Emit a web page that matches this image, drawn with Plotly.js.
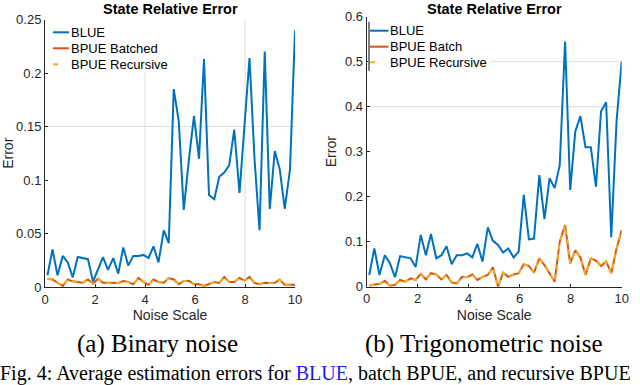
<!DOCTYPE html>
<html>
<head>
<meta charset="utf-8">
<script src="https://cdn.plot.ly/plotly-3.0.1.min.js"></script>
<style>
  html, body { margin: 0; padding: 0; background: #fff; }
  #chart { width: 640px; height: 385px; }
</style>
</head>
<body>
<div id="chart"></div>
<script>
// noise scale grid shared by both panels
const noiseScale = [0.1, 0.3, 0.5, 0.71, 0.91, 1.11, 1.31, 1.51, 1.72, 1.92,
  2.12, 2.32, 2.52, 2.73, 2.93, 3.13, 3.33, 3.53, 3.74, 3.94,
  4.14, 4.34, 4.54, 4.75, 4.95, 5.15, 5.35, 5.55, 5.76, 5.96,
  6.16, 6.36, 6.56, 6.77, 6.97, 7.17, 7.37, 7.57, 7.78, 7.98,
  8.18, 8.38, 8.58, 8.79, 8.99, 9.19, 9.39, 9.59, 9.8, 10];

// (a) binary noise
const binaryBlue = [0.011, 0.035, 0.011, 0.029, 0.023, 0.009, 0.028, 0.027, 0.026, 0.005,
  0.017, 0.028, 0.016, 0.027, 0.0125, 0.037, 0.020, 0.029, 0.029, 0.030,
  0.027, 0.038, 0.023, 0.053, 0.041, 0.185, 0.155, 0.072, 0.12, 0.16,
  0.12, 0.213, 0.086, 0.082, 0.103, 0.107, 0.114, 0.147, 0.088, 0.15,
  0.214, 0.12, 0.053, 0.22, 0.073, 0.127, 0.11, 0.073, 0.11, 0.24];
const binaryBatched = [0.0078, 0.007, 0.004, 0.001, 0.007, 0.0053, 0.0047, 0.004, 0.007, 0.003,
  0.0078, 0.004, 0.004, 0.0038, 0.0038, 0.0056, 0.0047, 0.0025, 0.0084, 0.0047,
  0.002, 0.007, 0.0047, 0.004, 0.0084, 0.007, 0.0025, 0.0056, 0.0056, 0.0025,
  0.0025, 0.001, 0.0025, 0.0047, 0.0038, 0.0094, 0.0047, 0.0047, 0.0084, 0.006,
  0.0094, 0.0038, 0.0025, 0.004, 0.0038, 0.004, 0.007, 0.002, 0.002, 0.002];
const binaryRecursive = binaryBatched; // recursive BPUE lies on top of the batch one

// (b) trigonometric noise
const trigBlue = [0.026, 0.085, 0.026, 0.07, 0.052, 0.021, 0.068, 0.065, 0.063, 0.044,
  0.115, 0.07, 0.117, 0.063, 0.07, 0.09, 0.05, 0.07, 0.07, 0.074,
  0.065, 0.095, 0.056, 0.132, 0.102, 0.093, 0.076, 0.085, 0.065, 0.078,
  0.204, 0.105, 0.107, 0.248, 0.15, 0.241, 0.219, 0.27, 0.545, 0.215,
  0.345, 0.379, 0.31, 0.31, 0.222, 0.39, 0.41, 0.11, 0.37, 0.5];
const trigBatched = [0.002, 0.005, 0.006, 0.013, 0.002, 0.004, 0.015, 0.011, 0.0185, 0.015,
  0.028, 0.016, 0.030, 0.027, 0.016, 0.026, 0.0096, 0.0074, 0.022, 0.021,
  0.027, 0.015, 0.022, 0.026, 0.043, 0.0, 0.031, 0.022, 0.027, 0.030,
  0.050, 0.046, 0.031, 0.063, 0.048, 0.030, 0.011, 0.100, 0.137, 0.052,
  0.081, 0.065, 0.026, 0.063, 0.058, 0.046, 0.056, 0.030, 0.085, 0.126];
const trigRecursive = trigBatched;

const leftNames = ["BLUE", "BPUE Batched", "BPUE Recursive"];
const rightNames = ["BLUE", "BPUE Batch", "BPUE Recursive"];
const panelTitle = "State Relative Error";
const captions = ["(a) Binary noise", "(b) Trigonometric noise"];
const figCaption = 'Fig. 4: Average estimation errors for <span style="color:#1a1aff">BLUE</span>, batch BPUE, and recursive BPUE';

// pixel -> paper helpers (margins are zero)
const W = 640, H = 385;
const px = (x) => x / W;
const py = (y) => 1 - y / H;

const BLUE = "#0072BD", ORANGE = "#D95319", YELLOW = "#EDB120";
const FONT = "Liberation Sans, Arial, sans-serif";
const SERIF = "Liberation Serif, Times New Roman, serif";
const INK = "#262626";

function line(y, xa, ya, color, dash) {
  return {
    x: noiseScale, y: y, xaxis: xa, yaxis: ya, type: "scatter", mode: "lines",
    line: { color: color, width: 2, dash: dash || "solid" },
    showlegend: false, hoverinfo: "skip",
  };
}

const traces = [
  line(binaryBlue, "x", "y", BLUE),
  line(binaryBatched, "x", "y", ORANGE),
  line(binaryRecursive, "x", "y", YELLOW, "5px,5px"),
  line(trigBlue, "x2", "y2", BLUE),
  line(trigBatched, "x2", "y2", ORANGE),
  line(trigRecursive, "x2", "y2", YELLOW, "5px,5px"),
];

const axis = {
  showgrid: false, zeroline: false, showline: true, linecolor: INK, linewidth: 1,
  ticks: "inside", ticklen: 3, tickcolor: INK,
  tickfont: { family: FONT, size: 13, color: INK }, fixedrange: true,
};
const xTitle = { text: "Noise Scale", font: { family: FONT, size: 14, color: INK }, standoff: 4 };
const yTitle = { text: "Error", font: { family: FONT, size: 14, color: INK }, standoff: 5 };

// light grid lines that show in the original, plus the legend boxes
const shapes = [];
function gridV(xa, ya, x, yTop) {
  shapes.push({ type: "line", xref: xa, yref: ya, x0: x, x1: x, y0: 0, y1: yTop,
    line: { color: "#dedede", width: 1 }, layer: "below" });
}
function gridH(xa, ya, y) {
  shapes.push({ type: "line", xref: xa, yref: ya, x0: 0, x1: 10, y0: y, y1: y,
    line: { color: "#dedede", width: 1 }, layer: "below" });
}
gridV("x", "y", 4, 0.25);
gridV("x", "y", 8, 0.25);
gridH("x", "y", 0.15);
gridH("x2", "y2", 0.5);
gridH("x2", "y2", 0.4);

const annotations = [];
function legendBox(x0, y0, x1, y1, rows, sampleX0, sampleX1, names, bar) {
  shapes.push({ type: "rect", xref: "paper", yref: "paper", x0: px(x0), x1: px(x1), y0: py(y1), y1: py(y0),
    fillcolor: "#fff", line: { width: 0 }, layer: "above" });
  if (bar) {
    shapes.push({ type: "line", xref: "paper", yref: "paper", x0: px(bar[0]), x1: px(bar[0]),
      y0: py(bar[2]), y1: py(bar[1]), line: { color: "#7f7f7f", width: 2 }, layer: "above" });
  }
  const colors = [BLUE, ORANGE, YELLOW];
  names.forEach((name, i) => {
    const end = i === 2 ? sampleX0 + 5 : sampleX1;
    shapes.push({ type: "line", xref: "paper", yref: "paper", x0: px(sampleX0), x1: px(end),
      y0: py(rows[i]), y1: py(rows[i]), line: { color: colors[i], width: 2 }, layer: "above" });
    annotations.push({ xref: "paper", yref: "paper", x: px(sampleX1 - 0.5), y: py(rows[i]),
      xanchor: "left", yanchor: "middle", showarrow: false, text: name,
      font: { family: FONT, size: 13, color: "#000" } });
  });
}
legendBox(46, 20, 168, 72, [32.3, 48.3, 64.3], 53, 69, leftNames, null);
legendBox(368, 17, 490, 71, [30.7, 46.7, 62.3], 370, 388.5, rightNames, [369, 21.7, 70.7]);

[170, 494].forEach((cx) => {
  annotations.push({ xref: "paper", yref: "paper", x: px(cx), y: py(9.5), xanchor: "center", yanchor: "middle",
    showarrow: false, text: "<b>" + panelTitle + "</b>", font: { family: FONT, size: 14.5, color: "#000" } });
});
[157, 484].forEach((cx, i) => {
  annotations.push({ xref: "paper", yref: "paper", x: px(cx), y: py(344), xanchor: "center", yanchor: "middle",
    showarrow: false, text: captions[i], font: { family: SERIF, size: 25, color: "#000" } });
});
// the reference crops this line at the bottom; kept a touch higher so it stays whole
annotations.push({ xref: "paper", yref: "paper", x: px(-2), y: py(373), xanchor: "left", yanchor: "middle",
  showarrow: false, text: figCaption, font: { family: SERIF, size: 20, color: "#000" } });

const layout = {
  width: W, height: H,
  margin: { l: 0, r: 0, t: 0, b: 0 },
  paper_bgcolor: "#fff", plot_bgcolor: "#fff",
  showlegend: false,
  xaxis: Object.assign({}, axis, { domain: [px(45), px(295)], range: [0, 10], dtick: 2, anchor: "y", title: xTitle }),
  yaxis: Object.assign({}, axis, { domain: [py(287), py(19.5)], range: [0, 0.25], dtick: 0.05, anchor: "x", title: yTitle }),
  xaxis2: Object.assign({}, axis, { domain: [px(366.7), px(621.7)], range: [0, 10], dtick: 2, anchor: "y2", title: xTitle }),
  yaxis2: Object.assign({}, axis, { domain: [py(286.7), py(16.7)], range: [0, 0.6], dtick: 0.1, anchor: "x2", title: yTitle }),
  shapes: shapes,
  annotations: annotations,
};

Plotly.newPlot("chart", traces, layout, { staticPlot: true, displayModeBar: false });
</script>
</body>
</html>
